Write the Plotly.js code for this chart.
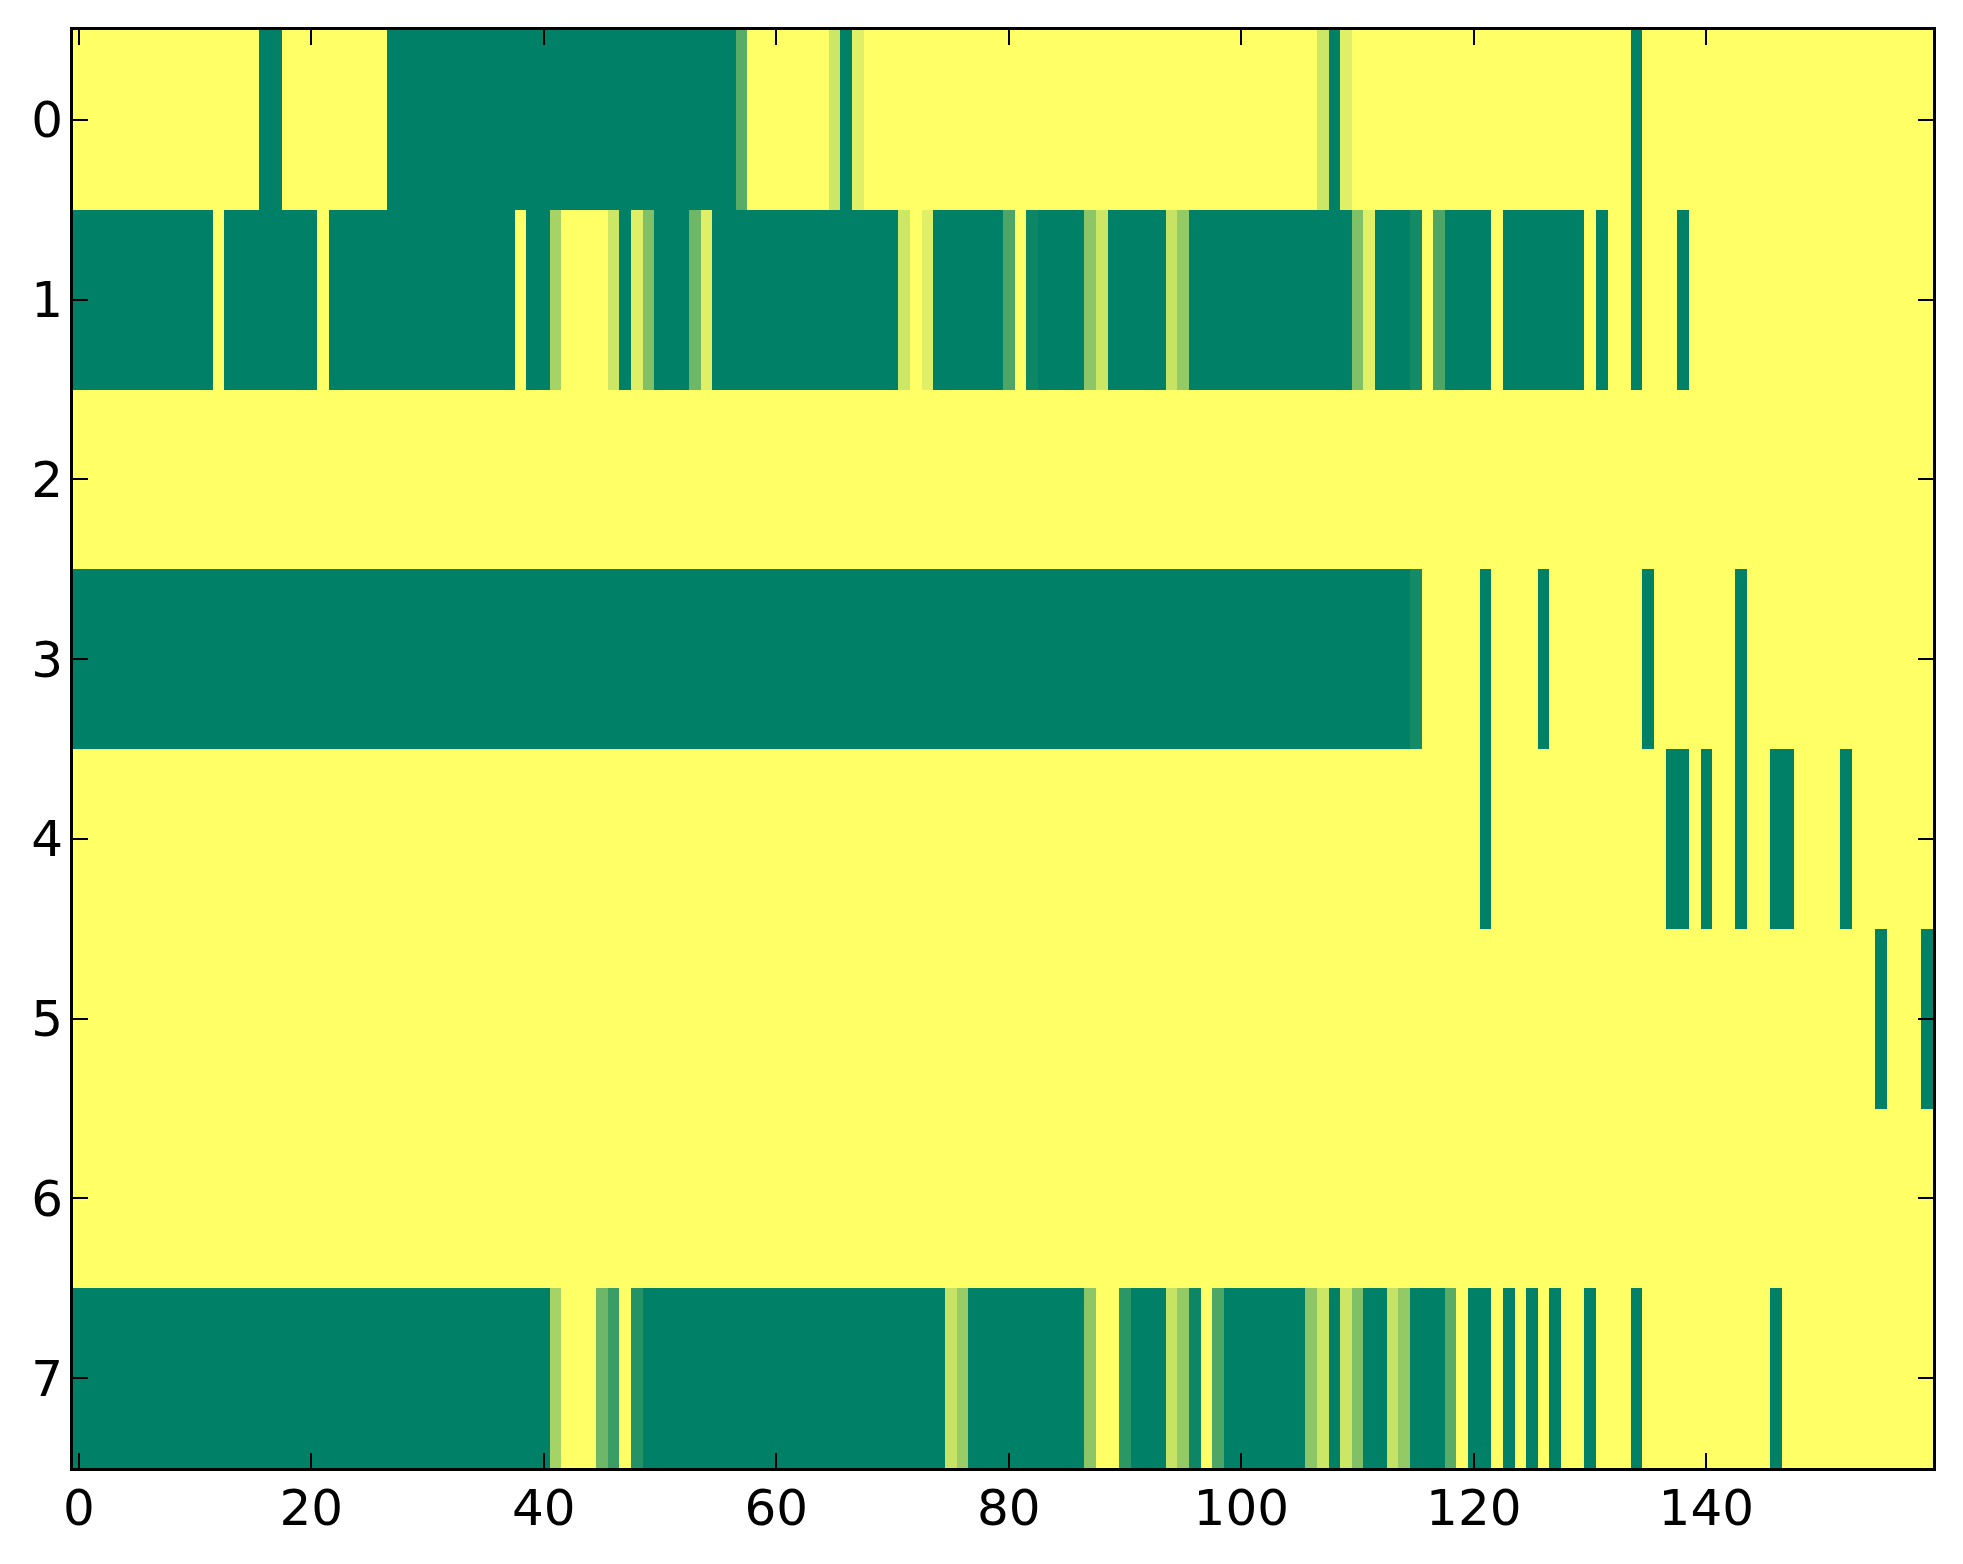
<!DOCTYPE html>
<html>
<head>
<meta charset="utf-8">
<script src="https://cdn.plot.ly/plotly-3.0.1.min.js"></script>
<style>html,body{margin:0;padding:0;background:#fff;}</style>
</head>
<body>
<div id="chart" style="width:1963px;height:1564px;"></div>
<script>
// Row labels (y categories) and column indices
const rowLabels = [0, 1, 2, 3, 4, 5, 6, 7];
const xTickVals = [0, 20, 40, 60, 80, 100, 120, 140];
const yTickVals = [0, 1, 2, 3, 4, 5, 6, 7];

// Cell values per row, 160 columns each (0 = yellow, 1 = dark green)
const row0 = [
  0,0,0,0,0,0,0,0,0,0, 0,0,0,0,0,0,1,1,0,0,
  0,0,0,0,0,0,0,1,1,1, 1,1,1,1,1,1,1,1,1,1,
  1,1,1,1,1,1,1,1,1,1, 1,1,1,1,1,1,1,0.65,0,0,
  0,0,0,0,0,0.2,1,0.12,0,0, 0,0,0,0,0,0,0,0,0,0,
  0,0,0,0,0,0,0,0,0,0, 0,0,0,0,0,0,0,0,0,0,
  0,0,0,0,0,0,0,0.2,1,0.12, 0,0,0,0,0,0,0,0,0,0,
  0,0,0,0,0,0,0,0,0,0, 0,0,0,0,1,0,0,0,0,0,
  0,0,0,0,0,0,0,0,0,0, 0,0,0,0,0,0,0,0,0,0
];
const row1 = [
  1,1,1,1,1,1,1,1,1,1, 1,1,0,1,1,1,1,1,1,1,
  1,0,1,1,1,1,1,1,1,1, 1,1,1,1,1,1,1,1,0,1,
  1,0.35,0,0,0,0,0.2,1,0.12,0.5, 1,1,1,0.57,0.12,1,1,1,1,1,
  1,1,1,1,1,1,1,1,1,1, 1,0.2,0,0.12,1,1,1,1,1,1,
  0.7,0,0.95,1,1,1,1,0.45,0.2,1, 1,1,1,1,0.22,0.42,1,1,1,1,
  1,1,1,1,1,1,1,1,1,1, 0.5,0.12,1,1,1,0.92,0,0.7,1,1,
  1,1,0,1,1,1,1,1,1,1, 0,1,0,0,1,0,0,0,1,0,
  0,0,0,0,0,0,0,0,0,0, 0,0,0,0,0,0,0,0,0,0
];
const row2 = [
  0,0,0,0,0,0,0,0,0,0, 0,0,0,0,0,0,0,0,0,0,
  0,0,0,0,0,0,0,0,0,0, 0,0,0,0,0,0,0,0,0,0,
  0,0,0,0,0,0,0,0,0,0, 0,0,0,0,0,0,0,0,0,0,
  0,0,0,0,0,0,0,0,0,0, 0,0,0,0,0,0,0,0,0,0,
  0,0,0,0,0,0,0,0,0,0, 0,0,0,0,0,0,0,0,0,0,
  0,0,0,0,0,0,0,0,0,0, 0,0,0,0,0,0,0,0,0,0,
  0,0,0,0,0,0,0,0,0,0, 0,0,0,0,0,0,0,0,0,0,
  0,0,0,0,0,0,0,0,0,0, 0,0,0,0,0,0,0,0,0,0
];
const row3 = [
  1,1,1,1,1,1,1,1,1,1, 1,1,1,1,1,1,1,1,1,1,
  1,1,1,1,1,1,1,1,1,1, 1,1,1,1,1,1,1,1,1,1,
  1,1,1,1,1,1,1,1,1,1, 1,1,1,1,1,1,1,1,1,1,
  1,1,1,1,1,1,1,1,1,1, 1,1,1,1,1,1,1,1,1,1,
  1,1,1,1,1,1,1,1,1,1, 1,1,1,1,1,1,1,1,1,1,
  1,1,1,1,1,1,1,1,1,1, 1,1,1,1,1,0.92,0,0,0,0,
  0,1,0,0,0,0,1,0,0,0, 0,0,0,0,0,1,0,0,0,0,
  0,0,0,1,0,0,0,0,0,0, 0,0,0,0,0,0,0,0,0,0
];
const row4 = [
  0,0,0,0,0,0,0,0,0,0, 0,0,0,0,0,0,0,0,0,0,
  0,0,0,0,0,0,0,0,0,0, 0,0,0,0,0,0,0,0,0,0,
  0,0,0,0,0,0,0,0,0,0, 0,0,0,0,0,0,0,0,0,0,
  0,0,0,0,0,0,0,0,0,0, 0,0,0,0,0,0,0,0,0,0,
  0,0,0,0,0,0,0,0,0,0, 0,0,0,0,0,0,0,0,0,0,
  0,0,0,0,0,0,0,0,0,0, 0,0,0,0,0,0,0,0,0,0,
  0,1,0,0,0,0,0,0,0,0, 0,0,0,0,0,0,0,1,1,0,
  1,0,0,1,0,0,1,1,0,0, 0,0,1,0,0,0,0,0,0,0
];
const row5 = [
  0,0,0,0,0,0,0,0,0,0, 0,0,0,0,0,0,0,0,0,0,
  0,0,0,0,0,0,0,0,0,0, 0,0,0,0,0,0,0,0,0,0,
  0,0,0,0,0,0,0,0,0,0, 0,0,0,0,0,0,0,0,0,0,
  0,0,0,0,0,0,0,0,0,0, 0,0,0,0,0,0,0,0,0,0,
  0,0,0,0,0,0,0,0,0,0, 0,0,0,0,0,0,0,0,0,0,
  0,0,0,0,0,0,0,0,0,0, 0,0,0,0,0,0,0,0,0,0,
  0,0,0,0,0,0,0,0,0,0, 0,0,0,0,0,0,0,0,0,0,
  0,0,0,0,0,0,0,0,0,0, 0,0,0,0,0,1,0,0,0,1
];
const row6 = [
  0,0,0,0,0,0,0,0,0,0, 0,0,0,0,0,0,0,0,0,0,
  0,0,0,0,0,0,0,0,0,0, 0,0,0,0,0,0,0,0,0,0,
  0,0,0,0,0,0,0,0,0,0, 0,0,0,0,0,0,0,0,0,0,
  0,0,0,0,0,0,0,0,0,0, 0,0,0,0,0,0,0,0,0,0,
  0,0,0,0,0,0,0,0,0,0, 0,0,0,0,0,0,0,0,0,0,
  0,0,0,0,0,0,0,0,0,0, 0,0,0,0,0,0,0,0,0,0,
  0,0,0,0,0,0,0,0,0,0, 0,0,0,0,0,0,0,0,0,0,
  0,0,0,0,0,0,0,0,0,0, 0,0,0,0,0,0,0,0,0,0
];
const row7 = [
  1,1,1,1,1,1,1,1,1,1, 1,1,1,1,1,1,1,1,1,1,
  1,1,1,1,1,1,1,1,1,1, 1,1,1,1,1,1,1,1,1,1,
  1,0.35,0,0,0,0.57,0.77,0,0.86,1, 1,1,1,1,1,1,1,1,1,1,
  1,1,1,1,1,1,1,1,1,1, 1,1,1,1,1,0.22,0.4,1,1,1,
  1,1,1,1,1,1,1,0.45,0,0, 0.83,1,1,1,0.22,0.42,0.95,0,0.7,1,
  1,1,1,1,1,1,0.45,0.2,1,0.2, 0.5,1,1,0.22,0.42,1,1,1,0.65,0,
  1,1,0,1,0,1,0,1,0,0, 1,0,0,0,1,0,0,0,0,0,
  0,0,0,0,0,0,1,0,0,0, 0,0,0,0,0,0,0,0,0,0
];

const zRows = [row0, row1, row2, row3, row4, row5, row6, row7];
const nCols = row0.length;
const colIndex = Array.from({length: nCols}, (_, i) => i);

const trace = {
  type: 'heatmap',
  z: zRows,
  x: colIndex,
  y: rowLabels,
  zmin: 0,
  zmax: 1,
  colorscale: [[0, '#ffff66'], [1, '#008066']],
  showscale: false,
  hoverinfo: 'skip'
};

const axisFont = {family: 'DejaVu Sans', size: 50, color: '#000'};
const layout = {
  width: 1963,
  height: 1564,
  margin: {l: 73, r: 30, t: 30, b: 96, pad: 0},
  paper_bgcolor: '#ffffff',
  plot_bgcolor: '#ffffff',
  showlegend: false,
  xaxis: {
    range: [-0.5, nCols - 0.5],
    tickmode: 'array',
    tickvals: xTickVals,
    ticktext: xTickVals.map(String),
    ticks: 'inside',
    ticklen: 15,
    tickwidth: 2,
    tickcolor: '#000',
    mirror: 'allticks',
    showline: true,
    linecolor: '#000',
    linewidth: 3,
    showgrid: false,
    zeroline: false,
    tickfont: axisFont,
    ticklabelstandoff: -6
  },
  yaxis: {
    range: [7.5, -0.5],
    tickmode: 'array',
    tickvals: yTickVals,
    ticktext: yTickVals.map(String),
    ticks: 'inside',
    ticklen: 15,
    tickwidth: 2,
    tickcolor: '#000',
    mirror: 'allticks',
    showline: true,
    linecolor: '#000',
    linewidth: 3,
    showgrid: false,
    zeroline: false,
    tickfont: axisFont,
    ticklabelstandoff: -3
  }
};

Plotly.newPlot('chart', [trace], layout, {staticPlot: true, displayModeBar: false});
</script>
</body>
</html>
